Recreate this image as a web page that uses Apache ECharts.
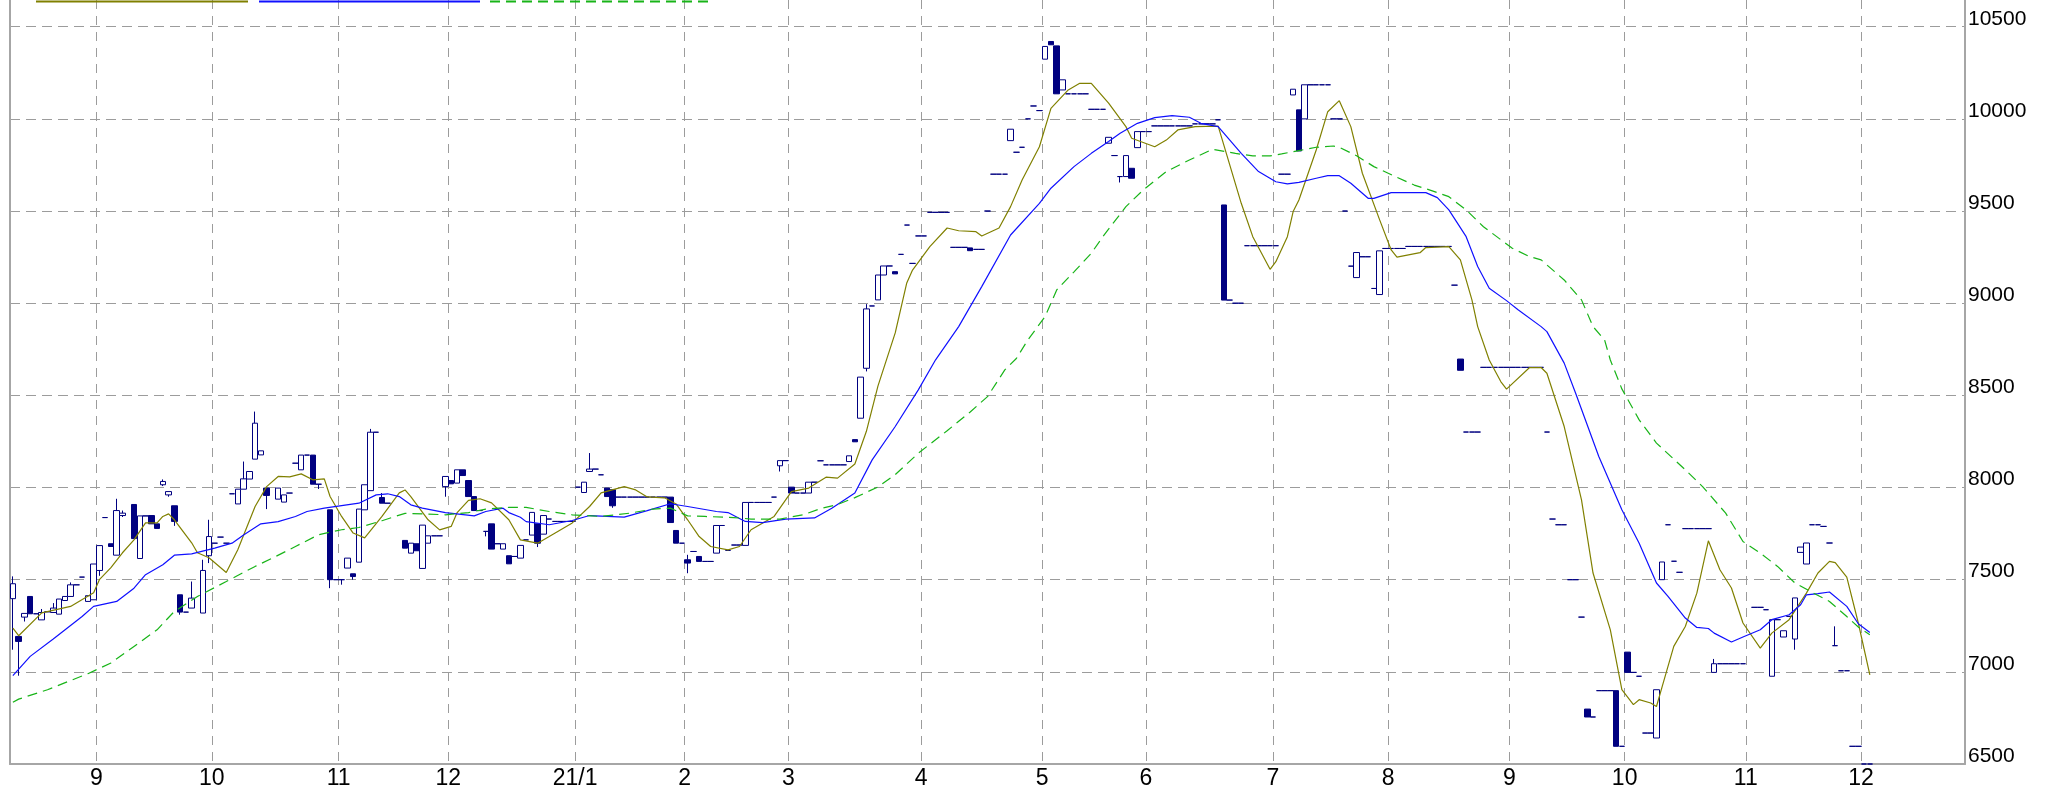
<!DOCTYPE html>
<html>
<head>
<meta charset="utf-8">
<script src="https://cdn.jsdelivr.net/npm/echarts@6/dist/echarts.min.js"></script>
<style>
html, body { margin: 0; padding: 0; background: #fff; }
#chart { width: 2049px; height: 792px; }
</style>
</head>
<body>
<div id="chart"></div>
<script>
// 日足 (2020/8/11 ～), index = trading day
const dayCount = 339;
const monthTicks = [[15, '9'], [35, '10'], [57, '11'], [76, '12'], [98, '21/1'], [117, '2'], [135, '3'], [158, '4'],
  [179, '5'], [197, '6'], [219, '7'], [239, '8'], [260, '9'], [280, '10'], [301, '11'], [321, '12']];

// [index, open, close, low, high]
const candles = [
  [0, 7397, 7478, 7120, 7518], [1, 7192, 7165, 6979, 7192], [2, 7297, 7317, 7273, 7317], [3, 7409, 7315, 7315, 7409],
  [5, 7282, 7322, 7282, 7341], [7, 7322, 7346, 7322, 7373], [8, 7313, 7395, 7313, 7395], [9, 7387, 7409, 7387, 7409],
  [10, 7409, 7472, 7409, 7485], [13, 7382, 7413, 7382, 7413], [14, 7391, 7585, 7391, 7585], [15, 7550, 7685, 7521, 7685],
  [17, 7695, 7680, 7680, 7695], [18, 7633, 7875, 7633, 7939], [19, 7848, 7861, 7840, 7875], [21, 7908, 7723, 7723, 7908],
  [22, 7615, 7846, 7615, 7846], [24, 7848, 7803, 7803, 7848], [25, 7803, 7778, 7778, 7803], [26, 8015, 8033, 8008, 8044],
  [27, 7960, 7978, 7950, 7978], [28, 7901, 7816, 7792, 7901], [29, 7418, 7324, 7310, 7418], [31, 7346, 7400, 7346, 7490],
  [33, 7319, 7550, 7319, 7608], [34, 7630, 7734, 7590, 7825], [39, 7911, 7991, 7911, 7991], [40, 7991, 8047, 7991, 8141],
  [41, 8046, 8087, 8046, 8087], [42, 8154, 8349, 8154, 8412], [43, 8177, 8199, 8177, 8199], [44, 7997, 7957, 7883, 7997],
  [46, 7937, 7997, 7937, 7997], [47, 7921, 7960, 7921, 7960], [50, 8096, 8176, 8096, 8176], [52, 8176, 8018, 8018, 8176],
  [53, 8018, 8018, 7992, 8018], [55, 7879, 7500, 7454, 7879], [57, 7500, 7500, 7473, 7500], [58, 7563, 7617, 7563, 7617],
  [59, 7532, 7517, 7500, 7532], [60, 7595, 7883, 7595, 7883], [61, 7879, 8015, 7879, 8015], [62, 7983, 8300, 7983, 8318],
  [64, 7946, 7915, 7915, 7970], [68, 7713, 7671, 7671, 7713], [69, 7644, 7698, 7644, 7698], [70, 7695, 7657, 7657, 7695],
  [71, 7561, 7796, 7561, 7796], [72, 7698, 7738, 7698, 7738], [75, 8005, 8060, 7950, 8060], [76, 8038, 8020, 8020, 8038],
  [77, 8024, 8096, 8024, 8096], [78, 8096, 8065, 8065, 8096], [79, 8038, 7951, 7951, 8038], [80, 7951, 7875, 7875, 7951],
  [82, 7762, 7762, 7735, 7762], [83, 7803, 7666, 7666, 7803], [85, 7666, 7695, 7666, 7695], [86, 7630, 7586, 7586, 7630],
  [88, 7617, 7686, 7617, 7686], [90, 7742, 7865, 7742, 7865], [91, 7803, 7698, 7677, 7803], [92, 7747, 7848, 7747, 7848],
  [99, 7973, 8029, 7973, 8029], [100, 8087, 8100, 8087, 8187], [103, 7997, 7951, 7951, 7997], [104, 7988, 7901, 7890, 7988],
  [114, 7948, 7810, 7810, 7948], [115, 7767, 7698, 7698, 7767], [117, 7608, 7590, 7535, 7635], [119, 7626, 7599, 7599, 7626],
  [122, 7644, 7794, 7644, 7794], [127, 7686, 7919, 7686, 7919], [133, 8118, 8146, 8087, 8146], [135, 8002, 7970, 7970, 8002],
  [138, 7970, 8029, 7970, 8029], [145, 8141, 8172, 8141, 8172], [146, 8260, 8248, 8248, 8260], [147, 8376, 8599, 8376, 8599],
  [148, 8647, 8969, 8630, 8995], [150, 9018, 9153, 9018, 9153], [151, 9153, 9202, 9153, 9202], [153, 9171, 9159, 9159, 9171],
  [166, 9300, 9285, 9285, 9300], [173, 9882, 9944, 9882, 9944], [179, 10324, 10393, 10324, 10393], [180, 10420, 10402, 10402, 10420],
  [181, 10396, 10136, 10136, 10396], [182, 10157, 10212, 10157, 10212], [190, 9868, 9900, 9868, 9900], [192, 9687, 9687, 9655, 9687],
  [193, 9687, 9801, 9687, 9801], [194, 9732, 9678, 9678, 9732], [195, 9844, 9931, 9844, 9931], [210, 9533, 9017, 9017, 9533],
  [222, 10130, 10161, 10130, 10161], [223, 10049, 9826, 9826, 10049], [224, 10000, 10185, 10000, 10185], [233, 9139, 9275, 9139, 9275],
  [237, 9047, 9284, 9047, 9284], [251, 8697, 8636, 8636, 8697], [273, 6798, 6755, 6755, 6798], [278, 6898, 6596, 6596, 6898],
  [280, 7107, 6997, 6997, 7107], [285, 6641, 6903, 6641, 6903], [286, 7500, 7596, 7500, 7596], [295, 6997, 7044, 6997, 7070],
  [305, 6976, 7283, 6976, 7283], [307, 7189, 7223, 7189, 7223], [309, 7178, 7401, 7120, 7401], [310, 7648, 7677, 7648, 7677],
  [311, 7585, 7699, 7585, 7699], [316, 7142, 7142, 7142, 7247]
];

// days without movement: [from, to, price]
const flatRuns = [
  [4, 4, 7315], [6, 6, 7326], [11, 11, 7472], [12, 12, 7514], [16, 16, 7837], [23, 23, 7846], [30, 30, 7324],
  [35, 35, 7698], [36, 36, 7731], [37, 37, 7698], [38, 38, 7966], [48, 48, 7970], [49, 49, 8132], [51, 51, 8176],
  [56, 56, 7500], [63, 63, 8300], [65, 65, 7915], [73, 74, 7738], [81, 81, 7875], [84, 84, 7695], [87, 87, 7626],
  [89, 89, 7716], [93, 93, 7829], [94, 97, 7816], [98, 98, 8002], [101, 101, 8100], [102, 102, 8069], [105, 113, 7948],
  [116, 116, 7698], [118, 118, 7653], [120, 121, 7599], [123, 123, 7794], [124, 124, 7659], [125, 126, 7688],
  [128, 131, 7919], [132, 132, 7948], [134, 134, 8146], [136, 137, 7970], [139, 139, 8029], [140, 140, 8145],
  [141, 144, 8123], [149, 149, 8985], [152, 152, 9202], [154, 154, 9265], [155, 155, 9424], [156, 156, 9216],
  [157, 158, 9365], [159, 162, 9493], [163, 165, 9303], [167, 168, 9292], [169, 169, 9500], [170, 172, 9700],
  [174, 174, 9819], [175, 175, 9846], [176, 176, 10000], [177, 177, 10070], [178, 178, 10045], [183, 186, 10136],
  [187, 189, 10052], [191, 191, 9801], [196, 197, 9931], [198, 204, 9962], [205, 208, 9973], [209, 209, 9995],
  [211, 211, 9017], [212, 213, 9000], [214, 219, 9312], [220, 221, 9700], [225, 228, 10185], [229, 230, 10000],
  [231, 231, 9500], [232, 232, 9201], [234, 235, 9252], [236, 236, 9080], [238, 241, 9297], [242, 249, 9308],
  [250, 250, 9098], [252, 254, 8301], [255, 265, 8652], [266, 266, 8301], [267, 267, 7829], [268, 269, 7798],
  [270, 271, 7500], [272, 272, 7297], [274, 274, 6755], [275, 277, 6898], [279, 279, 6596], [281, 281, 6997],
  [282, 282, 6976], [283, 284, 6668], [287, 287, 7798], [288, 288, 7600], [289, 289, 7540], [290, 294, 7777],
  [296, 300, 7044], [302, 303, 7350], [304, 304, 7337], [306, 306, 7283], [308, 308, 7301], [312, 313, 7798],
  [314, 314, 7789], [315, 315, 7699], [317, 318, 7006], [319, 320, 6596], [321, 322, 6500]
];

// moving averages [index, value]
const ma5 = [
  [0, 7237], [1, 7196], [5, 7320], [10, 7355], [14, 7429], [15, 7500], [17, 7565], [19, 7646], [21, 7716], [23, 7808],
  [25, 7808], [26, 7843], [27, 7857], [28, 7825], [31, 7700], [32, 7646], [34, 7619], [37, 7539], [39, 7662], [42, 7897],
  [44, 8005], [46, 8060], [48, 8058], [50, 8074], [52, 8042], [54, 8047], [55, 7951], [57, 7843], [59, 7753], [61, 7727],
  [64, 7843], [67, 7971], [68, 7987], [69, 7951], [72, 7825], [74, 7770], [76, 7789], [77, 7862], [79, 7930], [81, 7939],
  [83, 7917], [86, 7825], [88, 7716], [91, 7698], [93, 7734], [97, 7808], [100, 7897], [102, 7971], [106, 8005], [108, 7987],
  [110, 7949], [113, 7944], [115, 7911], [117, 7825], [119, 7734], [121, 7680], [124, 7662], [126, 7680], [128, 7771],
  [132, 7843], [135, 7978], [138, 7997], [141, 8056], [143, 8051], [146, 8128], [148, 8305], [150, 8550], [153, 8839],
  [155, 9110], [156, 9180], [159, 9307], [162, 9408], [164, 9393], [167, 9388], [168, 9365], [171, 9408], [173, 9524],
  [175, 9668], [178, 9849], [180, 10057], [183, 10157], [185, 10193], [187, 10193], [190, 10085], [193, 9958], [194, 9895],
  [198, 9849], [200, 9885], [202, 9940], [205, 9958], [209, 9961], [213, 9542], [215, 9361], [218, 9184], [219, 9225],
  [221, 9361], [222, 9497], [223, 9560], [226, 9831], [228, 10039], [230, 10099], [232, 9958], [234, 9705], [237, 9452],
  [239, 9289], [240, 9250], [242, 9262], [244, 9274], [245, 9302], [249, 9307], [251, 9235], [253, 9018], [254, 8873],
  [256, 8692], [258, 8575], [259, 8534], [263, 8651], [265, 8651], [266, 8620], [269, 8331], [272, 7933], [274, 7536],
  [277, 7228], [279, 6903], [281, 6822], [282, 6849], [284, 6831], [285, 6812], [286, 6921], [288, 7138], [290, 7246],
  [292, 7427], [294, 7711], [296, 7554], [298, 7455], [300, 7265], [303, 7129], [305, 7210], [308, 7283], [311, 7427],
  [313, 7536], [315, 7599], [316, 7593], [318, 7514], [320, 7265], [322, 6984]
];
const ma25 = [
  [0, 6979], [3, 7084], [7, 7178], [12, 7300], [14, 7355], [18, 7382], [21, 7454], [23, 7527], [26, 7581], [28, 7633],
  [31, 7640], [35, 7671], [38, 7698], [40, 7743], [43, 7803], [46, 7815], [49, 7843], [51, 7870], [54, 7888], [60, 7915],
  [63, 7960], [65, 7966], [67, 7951], [69, 7906], [71, 7888], [75, 7864], [80, 7846], [82, 7870], [85, 7888], [86, 7864],
  [88, 7839], [89, 7815], [93, 7798], [97, 7821], [100, 7848], [106, 7839], [110, 7875], [114, 7912], [117, 7897],
  [122, 7870], [124, 7864], [127, 7816], [130, 7810], [134, 7829], [139, 7835], [142, 7888], [146, 7970], [149, 8150],
  [153, 8331], [157, 8530], [160, 8693], [164, 8873], [168, 9090], [173, 9370], [178, 9542], [180, 9624], [184, 9741],
  [187, 9813], [190, 9877], [192, 9922], [195, 9976], [198, 10007], [201, 10018], [204, 10009], [206, 9976], [209, 9958],
  [213, 9813], [216, 9714], [219, 9659], [221, 9647], [223, 9656], [226, 9678], [228, 9692], [230, 9692], [232, 9651],
  [235, 9569], [236, 9569], [239, 9600], [245, 9600], [247, 9573], [249, 9506], [252, 9361], [254, 9199], [256, 9081],
  [259, 9014], [261, 8964], [265, 8873], [266, 8846], [269, 8675], [271, 8510], [275, 8168], [279, 7879], [282, 7698],
  [285, 7482], [287, 7409], [290, 7292], [292, 7241], [294, 7235], [295, 7210], [298, 7162], [300, 7189], [303, 7228],
  [305, 7283], [308, 7310], [310, 7364], [311, 7418], [313, 7424], [315, 7433], [318, 7355], [320, 7261], [322, 7214]
];
const ma75 = [
  [0, 6835], [1, 6852], [6, 6903], [13, 6990], [17, 7048], [21, 7138], [25, 7228], [28, 7328], [32, 7409], [37, 7490],
  [42, 7572], [45, 7617], [49, 7680], [53, 7744], [57, 7771], [60, 7783], [64, 7820], [68, 7860], [72, 7856], [75, 7852],
  [79, 7864], [82, 7883], [86, 7892], [89, 7892], [93, 7870], [97, 7852], [102, 7843], [107, 7861], [111, 7883],
  [114, 7888], [117, 7846], [120, 7843], [125, 7837], [128, 7829], [133, 7829], [137, 7852], [140, 7885], [143, 7908],
  [146, 7945], [150, 8003], [153, 8070], [157, 8186], [162, 8308], [166, 8410], [169, 8493], [172, 8638], [174, 8700],
  [176, 8801], [179, 8928], [181, 9072], [184, 9170], [187, 9271], [189, 9361], [193, 9524], [196, 9614], [200, 9714],
  [204, 9777], [208, 9835], [212, 9813], [215, 9799], [218, 9799], [220, 9810], [223, 9828], [226, 9846], [229, 9853],
  [230, 9846], [233, 9800], [236, 9741], [240, 9683], [243, 9641], [246, 9611], [249, 9578], [252, 9506], [255, 9415],
  [260, 9298], [263, 9253], [265, 9235], [269, 9126], [272, 9018], [274, 8873], [276, 8801], [277, 8692], [279, 8535],
  [282, 8367], [285, 8241], [290, 8096], [293, 8005], [297, 7861], [300, 7707], [303, 7644], [306, 7572], [309, 7482],
  [312, 7431], [315, 7382], [318, 7300], [320, 7243], [322, 7201]
];

const days = Array.from({ length: dayCount }, (_, i) => String(i));
const monthLabel = {};
monthTicks.forEach(([i, t]) => { monthLabel[i] = t; });

const candleData = candles.map((c) => c.slice());
flatRuns.forEach(([a, b, p]) => {
  for (let i = a; i <= b; i++) candleData.push([i, p, p, p, p]);
});
candleData.sort((x, y) => x[0] - y[0]);

const navy = '#000080';
const gridGray = '#9c9c9c';
const axisGray = '#a6a6a6';
const isMonth = (index) => monthLabel[index] !== undefined;

const chart = echarts.init(document.getElementById('chart'));
chart.setOption({
  animation: false,
  backgroundColor: '#ffffff',
  grid: { left: 10, right: 84, top: 0, bottom: 28, outerBoundsMode: 'none' },
  legend: [
    { data: ['5日移動平均'], left: 35, itemWidth: 212 },
    { data: ['25日移動平均'], left: 258, itemWidth: 221 },
    { data: ['75日移動平均'], left: 489, itemWidth: 224 },
  ].map((l) => Object.assign({
    top: -5, padding: 0, itemHeight: 13, itemGap: 0, selectedMode: false,
    formatter: () => '', lineStyle: { width: 2 }, itemStyle: { opacity: 0 },
  }, l)),
  xAxis: {
    type: 'category',
    data: days,
    boundaryGap: true,
    axisLine: { show: true, lineStyle: { color: axisGray, width: 2 } },
    axisTick: { show: false },
    axisLabel: {
      interval: isMonth,
      formatter: (v) => monthLabel[v] || '',
      color: '#000',
      fontFamily: 'Liberation Sans',
      fontSize: 23,
      margin: 3,
      padding: [0, 6, 0, 0],
    },
    splitLine: { show: true, interval: isMonth, lineStyle: { color: gridGray, width: 1, type: [9, 7] } },
  },
  yAxis: [
    {
      type: 'value',
      position: 'right',
      min: 6500,
      max: 10645,
      interval: 500,
      axisLine: { show: true, lineStyle: { color: axisGray, width: 2 } },
      axisTick: { show: false },
      axisLabel: {
        showMaxLabel: false,
        formatter: (v) => String(v),
        color: '#000',
        fontFamily: 'Liberation Sans',
        fontSize: 21,
        margin: 3,
        verticalAlign: 'bottom',
        lineHeight: 16,
      },
      splitLine: {
        show: true,
        showMaxLine: false,
        lineStyle: {
          color: [gridGray, gridGray, gridGray, gridGray, gridGray, gridGray, gridGray, gridGray, gridGray, 'rgba(0,0,0,0)'],
          width: 1,
          type: [10, 6],
        },
      },
    },
    {
      type: 'value',
      position: 'left',
      min: 6500,
      max: 10645,
      interval: 500,
      axisLine: { show: true, onZero: false, lineStyle: { color: axisGray, width: 2 } },
      axisTick: { show: false },
      axisLabel: { show: false },
      splitLine: { show: false },
    },
  ],
  series: [
    {
      type: 'candlestick',
      name: '株価',
      data: candleData,
      encode: { x: 0, y: [1, 2, 3, 4] },
      barWidth: 6,
      silent: true,
      itemStyle: {
        color: '#ffffff',
        color0: navy,
        borderColor: navy,
        borderColor0: navy,
        borderColorDoji: navy,
        borderWidth: 1,
      },
    },
    {
      type: 'line', name: '5日移動平均', data: ma5, symbol: 'none', showSymbol: false, silent: true, z: 3,
      itemStyle: { color: '#808000' }, lineStyle: { color: '#808000', width: 1.2 },
    },
    {
      type: 'line', name: '25日移動平均', data: ma25, symbol: 'none', showSymbol: false, silent: true, z: 3,
      itemStyle: { color: '#1010ff' }, lineStyle: { color: '#1010ff', width: 1.2 },
    },
    {
      type: 'line', name: '75日移動平均', data: ma75, symbol: 'none', showSymbol: false, silent: true, z: 3,
      itemStyle: { color: '#18b418' }, lineStyle: { color: '#18b418', width: 1.2, type: [10, 6] },
    },
  ],
});
</script>
</body>
</html>
